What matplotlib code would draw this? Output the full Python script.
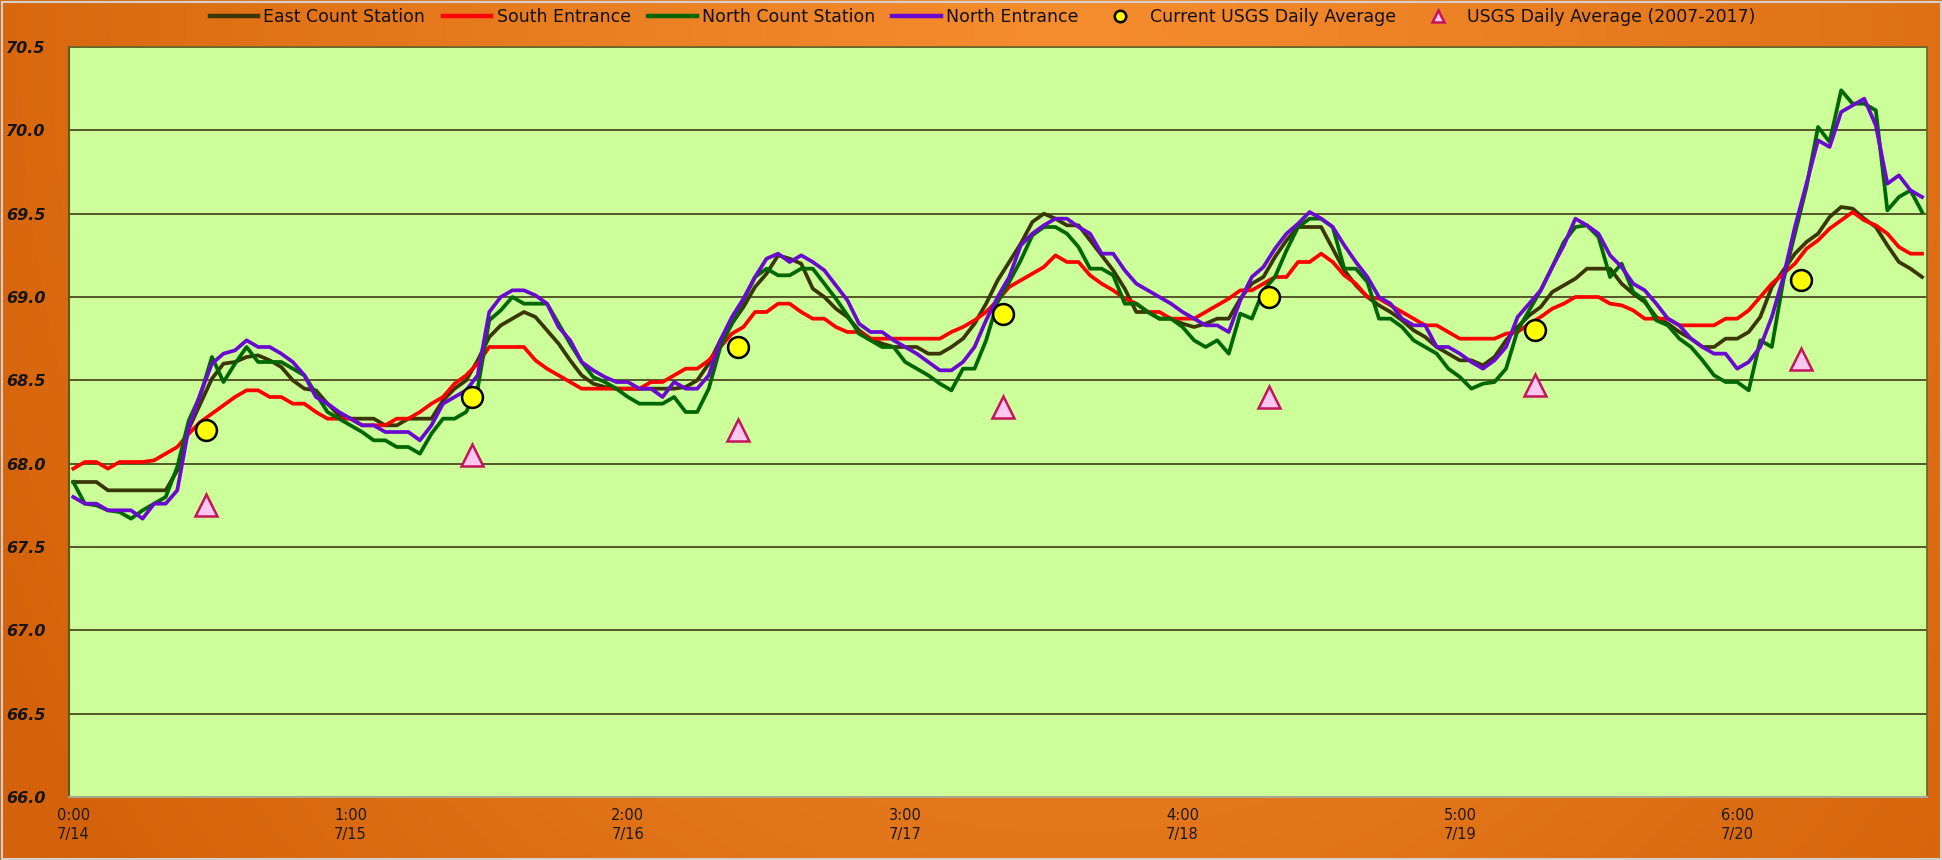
import numpy as np
import matplotlib
matplotlib.use("Agg")
import matplotlib.pyplot as plt

# ---------------- data ----------------
east = [67.89, 67.89, 67.89, 67.84, 67.84, 67.84, 67.84, 67.84, 67.84, 67.96,
        68.21, 68.36, 68.51, 68.60, 68.61, 68.64, 68.65, 68.62, 68.58, 68.50,
        68.45, 68.44, 68.36, 68.29, 68.27, 68.27, 68.27, 68.23, 68.23, 68.27,
        68.27, 68.27, 68.38, 68.45, 68.50, 68.62, 68.76, 68.83, 68.87, 68.91,
        68.88, 68.80, 68.72, 68.62, 68.53, 68.48, 68.46, 68.45, 68.45, 68.45,
        68.45, 68.45, 68.45, 68.46, 68.50, 68.60, 68.74, 68.84, 68.94, 69.06,
        69.14, 69.25, 69.23, 69.20, 69.05, 69.00, 68.93, 68.88, 68.80, 68.75,
        68.72, 68.70, 68.70, 68.70, 68.66, 68.66, 68.70, 68.75, 68.84, 68.96,
        69.10, 69.21, 69.32, 69.45, 69.50, 69.47, 69.43, 69.43, 69.34, 69.25,
        69.16, 69.05, 68.91, 68.91, 68.87, 68.87, 68.84, 68.82, 68.84, 68.87,
        68.87, 68.99, 69.08, 69.12, 69.24, 69.34, 69.42, 69.42, 69.42, 69.29,
        69.16, 69.07, 69.00, 68.95, 68.91, 68.86, 68.80, 68.76, 68.70, 68.66,
        68.62, 68.62, 68.59, 68.64, 68.74, 68.82, 68.89, 68.94, 69.03, 69.07,
        69.11, 69.17, 69.17, 69.17, 69.08, 69.02, 68.97, 68.88, 68.84, 68.79,
        68.75, 68.70, 68.70, 68.75, 68.75, 68.79, 68.88, 69.06, 69.16, 69.26,
        69.33, 69.38, 69.48, 69.54, 69.53, 69.47, 69.42, 69.31, 69.21, 69.17,
        69.12]

south = [67.97, 68.01, 68.01, 67.97, 68.01, 68.01, 68.01, 68.02, 68.06, 68.10,
         68.18, 68.25, 68.30, 68.35, 68.40, 68.44, 68.44, 68.40, 68.40, 68.36,
         68.36, 68.31, 68.27, 68.27, 68.27, 68.23, 68.23, 68.23, 68.27, 68.27,
         68.31, 68.36, 68.40, 68.48, 68.53, 68.60, 68.70, 68.70, 68.70, 68.70,
         68.62, 68.57, 68.53, 68.49, 68.45, 68.45, 68.45, 68.45, 68.45, 68.45,
         68.49, 68.49, 68.53, 68.57, 68.57, 68.62, 68.70, 68.78, 68.82, 68.91,
         68.91, 68.96, 68.96, 68.91, 68.87, 68.87, 68.82, 68.79, 68.79, 68.75,
         68.75, 68.75, 68.75, 68.75, 68.75, 68.75, 68.79, 68.82, 68.86, 68.91,
         68.98, 69.06, 69.10, 69.14, 69.18, 69.25, 69.21, 69.21, 69.13, 69.08,
         69.04, 68.99, 68.96, 68.91, 68.91, 68.87, 68.87, 68.87, 68.91, 68.95,
         68.99, 69.04, 69.04, 69.08, 69.12, 69.12, 69.21, 69.21, 69.26, 69.21,
         69.13, 69.08, 69.00, 68.99, 68.95, 68.91, 68.87, 68.83, 68.83, 68.79,
         68.75, 68.75, 68.75, 68.75, 68.78, 68.79, 68.84, 68.88, 68.93, 68.96,
         69.00, 69.00, 69.00, 68.96, 68.95, 68.92, 68.87, 68.87, 68.87, 68.83,
         68.83, 68.83, 68.83, 68.87, 68.87, 68.92, 69.00, 69.08, 69.14, 69.20,
         69.29, 69.34, 69.41, 69.46, 69.51, 69.46, 69.43, 69.38, 69.30, 69.26,
         69.26]

north_count = [67.89, 67.76, 67.75, 67.72, 67.71, 67.67, 67.72, 67.76, 67.80, 67.98,
               68.26, 68.41, 68.64, 68.49, 68.60, 68.70, 68.61, 68.61, 68.61, 68.57,
               68.53, 68.42, 68.31, 68.27, 68.23, 68.19, 68.14, 68.14, 68.10, 68.10,
               68.06, 68.18, 68.27, 68.27, 68.31, 68.45, 68.86, 68.92, 69.00, 68.96,
               68.96, 68.96, 68.84, 68.72, 68.61, 68.52, 68.49, 68.45, 68.40, 68.36,
               68.36, 68.36, 68.40, 68.31, 68.31, 68.45, 68.70, 68.84, 68.98, 69.12,
               69.17, 69.13, 69.13, 69.17, 69.17, 69.08, 68.99, 68.89, 68.78, 68.74,
               68.70, 68.70, 68.61, 68.57, 68.53, 68.48, 68.44, 68.57, 68.57, 68.74,
               68.97, 69.09, 69.22, 69.37, 69.42, 69.42, 69.38, 69.30, 69.17, 69.17,
               69.13, 68.96, 68.96, 68.91, 68.87, 68.87, 68.82, 68.74, 68.70, 68.74,
               68.66, 68.90, 68.87, 69.04, 69.12, 69.28, 69.42, 69.47, 69.47, 69.42,
               69.17, 69.17, 69.09, 68.87, 68.87, 68.82, 68.74, 68.70, 68.66, 68.57,
               68.52, 68.45, 68.48, 68.49, 68.57, 68.80, 68.92, 69.04, 69.18, 69.33,
               69.42, 69.43, 69.36, 69.12, 69.20, 69.03, 68.98, 68.86, 68.83, 68.75,
               68.70, 68.62, 68.53, 68.49, 68.49, 68.44, 68.74, 68.70, 69.10, 69.38,
               69.66, 70.02, 69.93, 70.24, 70.16, 70.16, 70.12, 69.52, 69.60, 69.64,
               69.51]

north_entrance = [67.80, 67.76, 67.76, 67.72, 67.72, 67.72, 67.67, 67.76, 67.76, 67.84,
                  68.22, 68.42, 68.60, 68.66, 68.68, 68.74, 68.70, 68.70, 68.66, 68.61,
                  68.53, 68.40, 68.36, 68.31, 68.27, 68.23, 68.23, 68.19, 68.19, 68.19,
                  68.14, 68.23, 68.36, 68.40, 68.44, 68.53, 68.91, 69.00, 69.04, 69.04,
                  69.01, 68.96, 68.82, 68.74, 68.61, 68.56, 68.52, 68.49, 68.49, 68.45,
                  68.45, 68.40, 68.49, 68.45, 68.45, 68.53, 68.74, 68.88, 68.99, 69.12,
                  69.23, 69.26, 69.21, 69.25, 69.21, 69.16, 69.07, 68.98, 68.84, 68.79,
                  68.79, 68.74, 68.70, 68.66, 68.61, 68.56, 68.56, 68.61, 68.70, 68.86,
                  69.00, 69.12, 69.31, 69.38, 69.43, 69.47, 69.47, 69.42, 69.38, 69.26,
                  69.26, 69.16, 69.08, 69.04, 69.00, 68.96, 68.91, 68.87, 68.83, 68.83,
                  68.79, 68.98, 69.12, 69.18, 69.29, 69.38, 69.44, 69.51, 69.47, 69.42,
                  69.31, 69.21, 69.12, 69.00, 68.96, 68.87, 68.83, 68.83, 68.70, 68.70,
                  68.66, 68.61, 68.57, 68.62, 68.70, 68.88, 68.96, 69.04, 69.18, 69.31,
                  69.47, 69.43, 69.38, 69.25, 69.18, 69.08, 69.04, 68.96, 68.87, 68.83,
                  68.75, 68.70, 68.66, 68.66, 68.57, 68.61, 68.70, 68.88, 69.12, 69.42,
                  69.68, 69.94, 69.90, 70.11, 70.15, 70.19, 70.03, 69.68, 69.73, 69.64,
                  69.60]

avg_hours = [11.5, 34.5, 57.5, 80.5, 103.5, 126.5, 149.5]
usgs_current = [68.20, 68.40, 68.70, 68.90, 69.00, 68.80, 69.10]
usgs_hist = [67.75, 68.05, 68.20, 68.34, 68.40, 68.47, 68.63]

tick_hours = [0, 24, 48, 72, 96, 120, 144]
tick_labels = ["0:00\n7/14", "1:00\n7/15", "2:00\n7/16", "3:00\n7/17",
               "4:00\n7/18", "5:00\n7/19", "6:00\n7/20"]

hours = np.arange(len(east))

# ---------------- figure ----------------
W, H = 1942, 860
fig = plt.figure(figsize=(W / 100, H / 100), dpi=100)

# orange gradient background
bg = fig.add_axes([0, 0, 1, 1], zorder=-10)
gx, gy = np.meshgrid(np.linspace(0, 1, 400), np.linspace(1, 0, 200))
t = np.sqrt(((gx - 0.55) / 0.62) ** 2 + ((gy - 0.95) / 1.6) ** 2)
t = np.clip(t, 0, 1) ** 1.2
light = np.array([245, 140, 46]) / 255
dark = np.array([212, 98, 10]) / 255
img = light[None, None, :] * (1 - t[..., None]) + dark[None, None, :] * t[..., None]
bg.imshow(img, aspect="auto", extent=[0, 1, 0, 1], interpolation="bilinear")
bg.set_xlim(0, 1)
bg.set_ylim(0, 1)
bg.axis("off")
bg.add_patch(plt.Rectangle((0.0008, 0.001), 0.9985, 0.997, fill=False,
                           edgecolor="#d0d0d0", lw=1.5, transform=bg.transAxes))

left, right, top, bottom = 69, 1927, 47, 797
ax = fig.add_axes([left / W, 1 - bottom / H, (right - left) / W, (bottom - top) / H])
ax.set_facecolor("#ccff99")

lw = 2.7
ax.plot(hours, east, color="#3b3605", lw=lw, label="East Count Station", zorder=3)
ax.plot(hours, south, color="#ff0000", lw=lw, label="South Entrance", zorder=3)
ax.plot(hours, north_count, color="#006600", lw=lw, label="North Count Station", zorder=3)
ax.plot(hours, north_entrance, color="#6a0ad0", lw=lw, label="North Entrance", zorder=4)
ax.plot(avg_hours, usgs_current, ls="none", marker="o", ms=15, mfc="#ffff00",
        mec="#000000", mew=1.8, label="Current USGS Daily Average", zorder=5)
ax.plot(avg_hours, usgs_hist, ls="none", marker="^", ms=16, mfc="#ffc6f0",
        mec="#c4145c", mew=1.8, label="USGS Daily Average (2007-2017)", zorder=5)

ax.set_xlim(-0.37, 160.43)
ax.set_ylim(66.0, 70.5)
yt = np.arange(66.0, 70.51, 0.5)
ax.set_yticks(yt)
ax.set_yticklabels([f"{v:.1f}" for v in yt],
                   fontsize=11.5, fontweight="bold", fontstyle="italic", color="#151515")
ax.set_xticks(tick_hours)
ax.set_xticklabels(tick_labels, fontsize=10.5, color="#1a1a1a", linespacing=1.35)
ax.tick_params(axis="both", length=0)
ax.tick_params(axis="y", pad=17)
ax.tick_params(axis="x", pad=8)
ax.yaxis.grid(True, color="#4a4a1e", lw=1.3)
ax.set_axisbelow(True)
for s in ["top", "right"]:
    ax.spines[s].set_color("#6b6b2a")
    ax.spines[s].set_linewidth(1.3)
ax.spines["left"].set_color("#5a5a20")
ax.spines["left"].set_linewidth(1.5)
ax.spines["bottom"].set_color("#a8a890")
ax.spines["bottom"].set_linewidth(1.5)

handles, labels = ax.get_legend_handles_labels()
leg = fig.legend(handles, labels, loc="center", bbox_to_anchor=(0.506, 1 - 17 / H),
                 ncol=6, frameon=False, fontsize=12.5, handlelength=2.8,
                 handletextpad=0.3, columnspacing=1.0, markerscale=0.55)
for txt in leg.get_texts():
    txt.set_color("#111111")
for line in leg.get_lines():
    line.set_linewidth(3.2)

fig.savefig("out.png", dpi=100)
